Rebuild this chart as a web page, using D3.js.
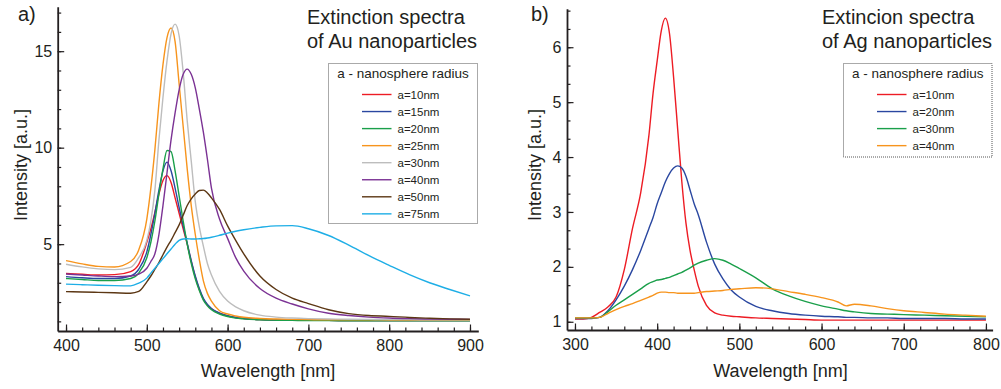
<!DOCTYPE html>
<html>
<head>
<meta charset="utf-8">
<script src="https://cdn.jsdelivr.net/npm/d3@7"></script>
<style>
  body { margin: 0; background: #fff; }
  text { font-family: "Liberation Sans", Arial, sans-serif; fill: #231f20; }
</style>
</head>
<body>
<svg id="chart" width="1001" height="389"></svg>
<script>
// ---- Au panel data (wavelength grid in nm, intensity in a.u.)
var auNm = [400,420,440,460,480,490,500,505,510,515,520,525,530,535,540,545,550,555,560,565,570,575,580,590,600,610,620,640,660,680,700,725,750,775,800,825,850,875,900];
var au10 = [3.48,3.44,3.40,3.42,3.58,3.95,5.1,5.8,6.65,7.6,8.3,8.55,8.2,7.4,6.6,5.8,5.0,4.1,3.3,2.65,2.15,1.85,1.65,1.42,1.28,1.2,1.15,1.09,1.07,1.06,1.05,1.05,1.04,1.04,1.04,1.04,1.04,1.04,1.04];
var au15 = [3.32,3.26,3.22,3.22,3.35,3.7,4.6,5.5,6.6,7.8,8.8,9.25,8.8,7.9,6.9,5.95,5.05,4.15,3.35,2.7,2.2,1.88,1.67,1.43,1.29,1.2,1.15,1.09,1.07,1.06,1.05,1.05,1.04,1.04,1.04,1.04,1.04,1.04,1.04];
var au20 = [3.22,3.17,3.12,3.12,3.22,3.5,4.3,5.1,6.2,7.6,8.9,9.85,9.8,8.8,7.5,6.2,5.0,4.0,3.2,2.6,2.1,1.8,1.6,1.38,1.25,1.17,1.13,1.08,1.06,1.05,1.04,1.04,1.03,1.03,1.03,1.03,1.03,1.03,1.03];
var au25 = [4.15,3.98,3.85,3.82,4.1,4.7,6.3,7.9,9.9,12.3,14.3,15.7,16.2,15.5,13.3,11.1,8.9,7.0,5.5,4.2,3.1,2.45,2.05,1.55,1.38,1.28,1.21,1.15,1.12,1.1,1.09,1.08,1.08,1.08,1.07,1.07,1.07,1.07,1.07];
var au30 = [3.96,3.82,3.72,3.68,3.8,4.3,5.2,6.2,7.8,10.4,12.6,14.5,15.9,16.4,15.8,13.9,11.4,9.3,7.2,5.9,4.9,4.0,3.4,2.55,2.05,1.75,1.55,1.32,1.22,1.17,1.14,1.12,1.11,1.1,1.09,1.09,1.08,1.08,1.08];
var au40 = [3.45,3.4,3.35,3.32,3.35,3.45,3.75,4.1,4.5,5.5,7.0,8.7,10.4,11.8,13.0,13.8,14.07,13.8,13.1,12.0,10.8,9.4,7.9,6.3,5.3,4.3,3.6,2.7,2.2,1.9,1.65,1.42,1.3,1.22,1.17,1.14,1.12,1.11,1.1];
var au50 = [2.54,2.52,2.5,2.48,2.46,2.55,3.05,3.35,3.7,4.05,4.45,4.85,5.2,5.6,6.0,6.5,7.0,7.35,7.6,7.78,7.8,7.65,7.4,6.8,5.95,5.2,4.5,3.35,2.65,2.2,1.92,1.6,1.4,1.3,1.26,1.2,1.16,1.13,1.11];
var au75 = [2.93,2.9,2.87,2.85,2.84,2.98,3.24,3.5,3.75,4.0,4.25,4.5,4.75,5.0,5.2,5.27,5.28,5.27,5.27,5.28,5.29,5.32,5.36,5.46,5.57,5.67,5.75,5.87,5.95,5.96,5.8,5.45,4.95,4.4,3.9,3.42,3.0,2.65,2.32];
var auLabels = ["a=10nm","a=15nm","a=20nm","a=25nm","a=30nm","a=40nm","a=50nm","a=75nm"];
var auColors = ["#ed1c24","#2a47a0","#1a9f4a","#f7941d","#bdbdbd","#7b3294","#5c3714","#1eaee6"];
var auYTicks = [5,10,15];
var auXTicks = [400,500,600,700,800,900];

// ---- Ag panel data
var agNm = [300,310,320,330,340,350,360,370,380,390,395,400,405,410,415,420,425,430,435,440,445,450,460,470,480,490,500,520,540,560,580,600,620,630,640,660,680,700,725,750,775,800];
var ag10 = [1.05,1.05,1.08,1.17,1.27,1.45,1.95,2.7,3.35,4.4,5.16,5.75,6.3,6.53,6.25,5.45,4.5,3.55,2.8,2.3,1.95,1.65,1.3,1.16,1.12,1.1,1.09,1.07,1.06,1.05,1.04,1.03,1.03,1.03,1.03,1.03,1.03,1.03,1.03,1.03,1.03,1.03];
var ag20 = [1.06,1.06,1.06,1.08,1.2,1.4,1.65,1.95,2.3,2.7,2.9,3.15,3.35,3.55,3.7,3.8,3.84,3.8,3.65,3.4,3.15,2.95,2.45,2.05,1.78,1.58,1.45,1.28,1.2,1.15,1.12,1.1,1.09,1.08,1.08,1.07,1.07,1.06,1.06,1.06,1.05,1.05];
var ag30 = [1.07,1.07,1.07,1.08,1.18,1.3,1.4,1.5,1.6,1.7,1.73,1.76,1.77,1.79,1.81,1.84,1.87,1.9,1.94,1.98,2.03,2.07,2.12,2.15,2.12,2.05,1.97,1.8,1.6,1.47,1.37,1.29,1.23,1.2,1.18,1.15,1.14,1.13,1.12,1.11,1.1,1.09];
var ag40 = [1.07,1.07,1.07,1.08,1.15,1.22,1.28,1.33,1.39,1.45,1.48,1.52,1.54,1.54,1.53,1.53,1.52,1.52,1.52,1.52,1.52,1.53,1.55,1.56,1.57,1.59,1.6,1.62,1.6,1.55,1.5,1.44,1.36,1.29,1.32,1.29,1.24,1.2,1.17,1.14,1.12,1.1];
var agLabels = ["a=10nm","a=20nm","a=30nm","a=40nm"];
var agColors = ["#ed1c24","#2a47a0","#1a9f4a","#f7941d"];
var agYTicks = [1,2,3,4,5,6];
var agXTicks = [300,400,500,600,700,800];

var svg = d3.select("#chart");

function drawPanel(p) {
  var g = svg.append("g");
  var x = d3.scaleLinear().domain(p.xDomain).range(p.xRange);
  var y = d3.scaleLinear().domain(p.yDomain).range(p.yRange);

  // minor ticks (inward, no labels)
  g.append("g").attr("transform", "translate(0," + p.yRange[0] + ")")
    .call(d3.axisBottom(x).tickValues(p.xMinor).tickSize(-3.5).tickSizeOuter(0).tickFormat(""))
    .call(a => a.select(".domain").remove());
  g.append("g").attr("transform", "translate(" + p.xRange[0] + ",0)")
    .call(d3.axisLeft(y).tickValues(p.yMinor).tickSize(-3.5).tickSizeOuter(0).tickFormat(""))
    .call(a => a.select(".domain").remove());

  // major ticks + labels
  var xa = g.append("g").attr("transform", "translate(0," + p.yRange[0] + ")")
    .call(d3.axisBottom(x).tickValues(p.xTicks).tickSize(-6.5).tickSizeOuter(0).tickPadding(9)
      .tickFormat(d3.format("d")));
  var ya = g.append("g").attr("transform", "translate(" + p.xRange[0] + ",0)")
    .call(d3.axisLeft(y).tickValues(p.yTicks).tickSize(-6.5).tickSizeOuter(0).tickPadding(5.5)
      .tickFormat(d3.format("d")));
  g.selectAll(".tick line, .domain").attr("stroke", "#231f20").attr("stroke-width", 1.2);
  xa.select(".domain").attr("stroke-width", 1.8);
  ya.select(".domain").attr("stroke-width", 1.8);
  g.selectAll(".tick text").attr("font-size", "16px")
    .attr("font-family", "'Liberation Sans', Arial, sans-serif").attr("fill", "#231f20");

  // curves
  var line = d3.line().curve(d3.curveMonotoneX)
    .x(d => x(d[0])).y(d => y(d[1]));
  p.series.forEach(function(vals, i) {
    g.append("path")
      .datum(p.nm.map((n, k) => [n, vals[k]]))
      .attr("fill", "none")
      .attr("stroke", p.colors[i])
      .attr("stroke-width", 1.4)
      .attr("stroke-linejoin", "round")
      .attr("d", line);
  });

  // axis titles
  g.append("text")
    .attr("x", (x(p.xTicks[0]) + x(p.xTicks[p.xTicks.length - 1])) / 2)
    .attr("y", 377).attr("text-anchor", "middle").attr("font-size", "18px")
    .text("Wavelength [nm]");
  g.append("text")
    .attr("transform", "translate(" + p.yTitleX + ",165) rotate(-90)")
    .attr("text-anchor", "middle").attr("font-size", "18px")
    .text("Intensity [a.u.]");

  // panel letter and heading
  g.append("text").attr("x", p.letterX).attr("y", 21).attr("font-size", "20px").text(p.letter);
  g.append("text").attr("x", p.titleX).attr("y", 24).attr("font-size", "20px").text(p.title[0]);
  g.append("text").attr("x", p.titleX).attr("y", 48).attr("font-size", "20px").text(p.title[1]);

  // legend
  var lg = g.append("g");
  lg.append("rect")
    .attr("x", p.legBox[0] + 0.5).attr("y", p.legBox[1] + 0.5)
    .attr("width", p.legBox[2]).attr("height", p.legBox[3])
    .attr("fill", "#fff").attr("stroke", "#555").attr("stroke-width", 1)
    .attr("stroke-dasharray", "1,1");
  lg.append("text")
    .attr("x", p.legBox[0] + p.legBox[2] / 2 + 0.5).attr("y", p.legBox[1] + 14.5)
    .attr("text-anchor", "middle").attr("font-size", "13.5px")
    .text("a - nanosphere radius");
  p.labels.forEach(function(lab, i) {
    var cy = p.legBox[1] + 31.5 + i * 17.05;
    lg.append("line")
      .attr("x1", p.legLineX).attr("x2", p.legLineX + 29.5)
      .attr("y1", cy).attr("y2", cy)
      .attr("stroke", p.colors[i]).attr("stroke-width", 1.4);
    lg.append("text")
      .attr("x", p.legLineX + 35.5).attr("y", cy + 4)
      .attr("font-size", "11.5px").text(lab);
  });
}

drawPanel({
  nm: auNm, series: [au10, au15, au20, au25, au30, au40, au50, au75],
  labels: auLabels, colors: auColors,
  xDomain: [389.7, 910.3], xRange: [57.7, 478.3],
  yDomain: [0.5, 17.3], yRange: [331, 6.8],
  xTicks: auXTicks, xMinor: d3.range(400, 901, 20),
  yTicks: auYTicks, yMinor: d3.range(1, 18, 1),
  yTitleX: 27, letter: "a)", letterX: 18,
  titleX: 307, title: ["Extinction spectra", "of Au nanoparticles"],
  legBox: [328, 63, 149, 160], legLineX: 362
});

drawPanel({
  nm: agNm, series: [ag10, ag20, ag30, ag40],
  labels: agLabels, colors: agColors,
  xDomain: [290.3, 808.1], xRange: [567, 992.6],
  yDomain: [0.85, 6.7], yRange: [330, 8.8],
  xTicks: agXTicks, xMinor: d3.range(300, 801, 20),
  yTicks: agYTicks, yMinor: d3.range(1, 6.7, 1 / 3),
  yTitleX: 541, letter: "b)", letterX: 531,
  titleX: 822, title: ["Extincion spectra", "of Ag nanoparticles"],
  legBox: [843, 63, 148.5, 93.5], legLineX: 877
});
</script>
</body>
</html>
